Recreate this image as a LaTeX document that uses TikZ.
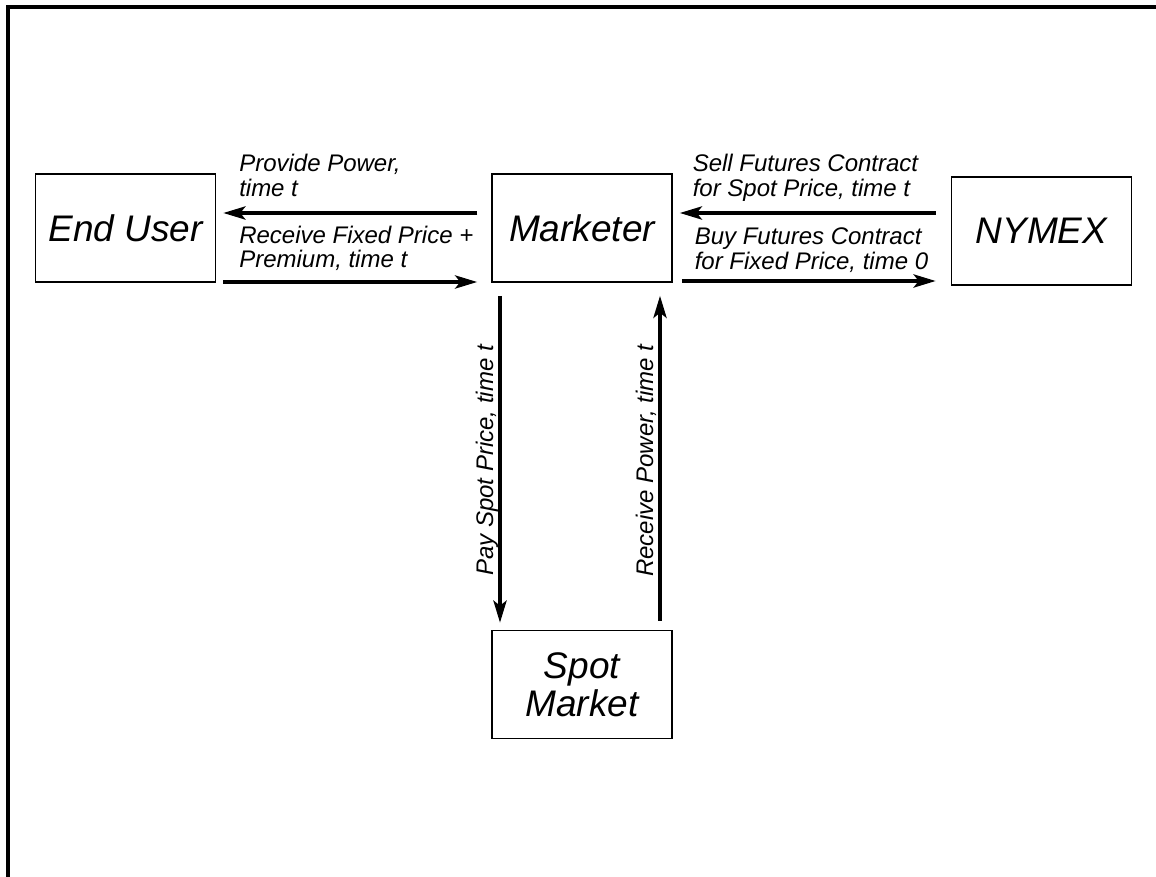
\documentclass[tikz,border=0pt]{standalone}
\usepackage{fontspec}
\setmainfont{Liberation Sans}
\usetikzlibrary{arrows.meta,positioning}

\tikzset{
	party/.style={draw, line width=0.75pt, minimum width=90pt, minimum height=54pt,
		inner sep=0pt, align=center, font=\fontsize{18.5}{19}\selectfont\itshape},
	flow/.style={line width=2pt, -{Stealth[length=11pt,width=6.5pt,inset=2.5pt]}},
	note/.style={inner sep=0pt, align=left, font=\fontsize{12}{12.5}\selectfont\itshape},
}

\begin{document}
\begin{tikzpicture}[x=0.5pt, y=-0.5pt]
	\useasboundingbox (0,0) rectangle (1156,877);
	\draw[line width=2pt] (1156,7) -- (7.5,7) -- (7.5,877);

	\node[party] (marketer) at (582,228) {Marketer};
	\node[party, left=137.5pt of marketer] (end-user) {End User};
	\node[party, right=139pt of marketer, yshift=-1.5pt] (nymex) {NYMEX};
	\node[party, below=173.5pt of marketer] (spot) {Spot\\Market};

	\draw[flow, shorten <=7pt, shorten >=3.5pt]
		([yshift=7.5pt]marketer.west) -- ([yshift=7.5pt]marketer.west -| end-user.east)
		node[note, at end, anchor=base west, xshift=10.5pt, yshift=8pt] {Provide Power,\\time t};
	\draw[flow, shorten <=3.5pt, shorten >=7pt]
		([yshift=-27pt]marketer.west -| end-user.east) -- ([yshift=-27pt]marketer.west)
		node[note, at start, anchor=base west, xshift=10.5pt, yshift=7pt] {Receive Fixed Price +\\Premium, time t};
	\draw[flow, shorten <=7.5pt, shorten >=3.5pt]
		([yshift=7.5pt]marketer.east -| nymex.west) -- ([yshift=7.5pt]marketer.east)
		node[note, at end, anchor=base west, xshift=9pt, yshift=8pt] {Sell Futures Contract\\for Spot Price, time t};
	\draw[flow, shorten <=4.5pt, shorten >=7.5pt]
		([yshift=-26.5pt]marketer.east) -- ([yshift=-26.5pt]marketer.east -| nymex.west)
		node[note, at start, anchor=base west, xshift=10pt, yshift=5.5pt] {Buy Futures Contract\\for Fixed Price, time 0};

	\draw[flow, shorten <=6.5pt, shorten >=3.5pt]
		([xshift=-41pt]marketer.south) -- ([xshift=-41pt]marketer.south |- spot.north)
		node[note, at end, xshift=-3.5pt, yshift=26pt, rotate=90, anchor=base west] {Pay Spot Price, time t};
	\draw[flow, shorten <=4.5pt, shorten >=6.5pt]
		([xshift=39pt]marketer.south |- spot.north) -- ([xshift=39pt]marketer.south)
		node[note, at start, xshift=-3.5pt, yshift=25.5pt, rotate=90, anchor=base west] {Receive Power, time t};
\end{tikzpicture}
\end{document}
